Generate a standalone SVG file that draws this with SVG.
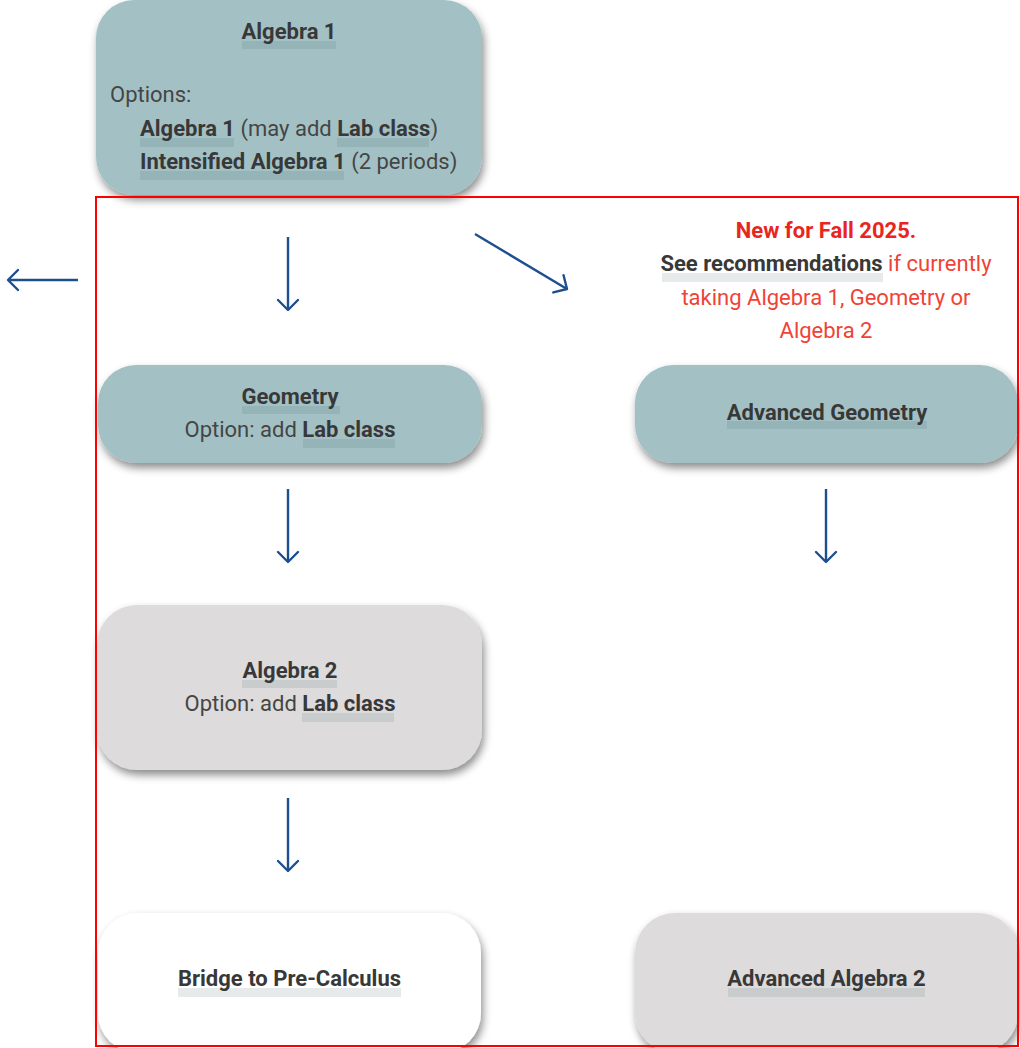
<svg xmlns="http://www.w3.org/2000/svg" width="1020" height="1048" viewBox="0 0 1020 1048">
<defs>
<filter id="sh" x="-10%" y="-20%" width="125%" height="150%">
<feDropShadow dx="2" dy="5" stdDeviation="4.5" flood-color="#000" flood-opacity="0.45"/>
</filter>
<marker id="ah" viewBox="-12 -12 16 24" markerWidth="16" markerHeight="24" refX="0" refY="0" orient="auto" markerUnits="userSpaceOnUse">
<path d="M-10,-10 L0,0 L-10,10" fill="none" stroke="#1d4f8f" stroke-width="2.4" stroke-linecap="round" stroke-linejoin="round"/>
</marker>
<style>
.teal{fill:#a3c1c4}
.gray{fill:#dddbdc}
.white{fill:#ffffff}
.t{font-family:Roboto,"Liberation Sans",sans-serif;font-size:22px;fill:#454545}
.b{font-weight:700;fill:#383838}
.c{text-anchor:middle}
.bt{fill:#95b4b7}
.bg{fill:#c9cccc}
.bw{fill:#e6eaea}
.red{fill:#ef4336}
.redb{fill:#e8261e;font-weight:700}
.conn path{fill:none;stroke:#1d4f8f;stroke-width:2.4;marker-end:url(#ah)}
</style>
</defs>
<rect width="1020" height="1048" fill="#ffffff"/>

<g id="algebra1">
<rect class="teal" x="96" y="0" width="386" height="195" rx="38" filter="url(#sh)"/>
<rect class="bt" x="242" y="41" width="94" height="8"/>
<rect class="bt" x="140" y="138" width="94" height="9"/>
<rect class="bt" x="337" y="138" width="92" height="9"/>
<rect class="bt" x="140" y="171" width="204" height="9"/>
<text class="t b c" x="289" y="39">Algebra 1</text>
<text class="t" x="110" y="102">Options:</text>
<text class="t" x="140" y="136"><tspan class="b">Algebra 1</tspan> (may add <tspan class="b">Lab class</tspan>)</text>
<text class="t" x="140" y="169"><tspan class="b">Intensified Algebra 1</tspan> (2 periods)</text>
</g>

<g id="geometry">
<rect class="teal" x="98" y="365" width="384" height="98" rx="38" filter="url(#sh)"/>
<rect class="bt" x="242" y="406" width="98" height="8"/>
<rect class="bt" x="303" y="439" width="92" height="9"/>
<text class="t b c" x="290" y="404">Geometry</text>
<text class="t c" x="290" y="437">Option: add <tspan class="b">Lab class</tspan></text>
</g>

<g id="advanced-geometry">
<rect class="teal" x="635" y="365" width="383" height="98" rx="38" filter="url(#sh)"/>
<rect class="bt" x="727" y="421" width="200" height="8"/>
<text class="t b c" x="827" y="420">Advanced Geometry</text>
</g>

<g id="note">
<rect class="bw" x="662" y="273" width="221" height="9"/>
<text class="t c redb" x="826" y="238">New for Fall 2025.</text>
<text class="t c" x="826" y="271"><tspan class="b">See recommendations</tspan> <tspan class="red">if currently</tspan></text>
<text class="t c red" x="826" y="305">taking Algebra 1, Geometry or</text>
<text class="t c red" x="826" y="338">Algebra 2</text>
</g>

<g id="algebra2">
<rect class="gray" x="97" y="605" width="385" height="165" rx="40" filter="url(#sh)"/>
<rect class="bg" x="242" y="680" width="95" height="8"/>
<rect class="bg" x="302" y="713" width="92" height="9"/>
<text class="t b c" x="290" y="678">Algebra 2</text>
<text class="t c" x="290" y="711">Option: add <tspan class="b">Lab class</tspan></text>
</g>

<g id="bridge">
<rect class="white" x="98" y="913" width="383" height="140" rx="40" filter="url(#sh)"/>
<rect class="bw" x="178" y="988" width="223" height="9"/>
<text class="t b c" x="289.5" y="986">Bridge to Pre-Calculus</text>
</g>

<g id="advanced-algebra2">
<rect class="gray" x="635" y="913" width="383" height="140" rx="40" filter="url(#sh)"/>
<rect class="bg" x="728" y="988" width="197" height="9"/>
<text class="t b c" x="826.5" y="986">Advanced Algebra 2</text>
</g>

<g id="connectors" class="conn">
<path d="M78,280 L8,280"/>
<path d="M288,237 L288,310"/>
<path d="M475,234 L567,289"/>
<path d="M288,489 L288,562"/>
<path d="M826,489 L826,562"/>
<path d="M288,798 L288,871"/>
</g>

<rect id="frame" x="96" y="197" width="922" height="849" fill="none" stroke="#ff0000" stroke-width="2"/>
</svg>
